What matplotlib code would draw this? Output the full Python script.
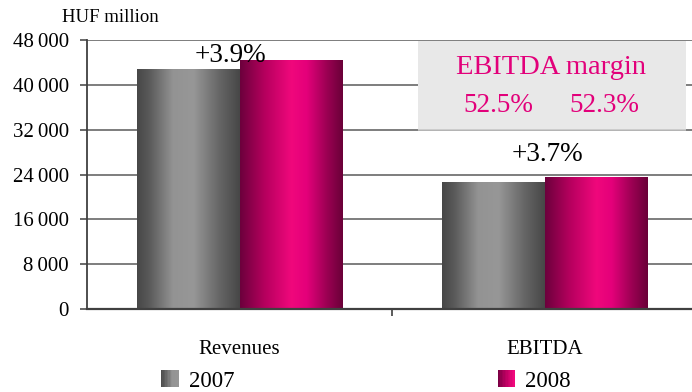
import numpy as np
import matplotlib
matplotlib.use('Agg')
import matplotlib.pyplot as plt
from matplotlib.colors import LinearSegmentedColormap
from matplotlib.patches import Rectangle, Patch
from matplotlib.legend_handler import HandlerBase

plt.rcParams['font.family'] = ['Liberation Serif', 'DejaVu Serif']

# data
categories = ['Revenues', 'EBITDA']
years = ['2007', '2008']
values_2007 = [42670, 22580]
values_2008 = [44300, 23420]
growth_labels = ['+3.9%', '+3.7%']
margin_title = 'EBITDA margin'
margin_labels = ['52.5%', '52.3%']
yticks = [0, 8000, 16000, 24000, 32000, 40000, 48000]
ytick_labels = ['0', '8\u2009000', '16\u2009000', '24\u2009000', '32\u2009000', '40\u2009000', '48\u2009000']

MAGENTA = '#e2007a'
gray_cmap = LinearSegmentedColormap.from_list('g', [
    (0, '#474747'), (0.12, '#5a5a5a'), (0.35, '#939393'), (0.55, '#979797'),
    (0.8, '#666666'), (1.0, '#474747')])
mag_cmap = LinearSegmentedColormap.from_list('m', [
    (0, '#6c003c'), (0.25, '#b8005f'), (0.5, '#f0087c'), (0.65, '#e4007a'),
    (0.85, '#9a0052'), (1.0, '#6a0038')])


class GradientHandler(HandlerBase):
    # legend square drawn as thin stripes of the bar gradient
    def __init__(self, cmap):
        super().__init__()
        self.cmap = cmap

    def create_artists(self, legend, orig_handle, xdescent, ydescent,
                       width, height, fontsize, trans):
        n = 12
        arts = []
        for i in range(n):
            r = Rectangle((-xdescent + i * width / n, -ydescent), width / n + 0.3, height,
                          facecolor=self.cmap(0.05 + 0.45 * i / (n - 1)), lw=0, transform=trans)
            arts.append(r)
        return arts


fig = plt.figure(figsize=(6.92, 3.92), dpi=100)
ax = fig.add_axes([87 / 692, 1 - 309 / 392, 610 / 692, 269 / 392])

x = np.arange(len(categories))
w = 0.336
b1 = ax.bar(x - w / 2, values_2007, w, color='none', zorder=3)
b2 = ax.bar(x + w / 2, values_2008, w, color='none', zorder=3)

grad = np.linspace(0, 1, 256).reshape(1, -1)
for bars, cmap in [(b1, gray_cmap), (b2, mag_cmap)]:
    for p in bars:
        x0, y0 = p.get_x(), p.get_y()
        ax.imshow(grad, cmap=cmap, aspect='auto', zorder=3,
                  extent=(x0, x0 + p.get_width(), y0, y0 + p.get_height()))

ax.set_xlim(-0.5, 1.5)
ax.set_ylim(0, 48000)

# gridlines
for t in yticks[1:]:
    ax.axhline(t, color='#5a5a5a', lw=1.1, zorder=1)

# margin box
ax.add_patch(Rectangle((0.585, 32000), 0.879, 15900, facecolor='#e8e8e8',
                       edgecolor='none', zorder=1.5))
ax.hlines(32000, 0.585, 1.464, color='#c4c4c4', lw=1.1, zorder=1.6)
ax.text(1.021, 43180, margin_title, color=MAGENTA, fontsize=20.5,
        ha='center', va='center', zorder=4)
ax.text(0.848, 36400, margin_labels[0], color=MAGENTA, fontsize=19.5,
        ha='center', va='center', zorder=4)
ax.text(1.195, 36400, margin_labels[1], color=MAGENTA, fontsize=19.5,
        ha='center', va='center', zorder=4)

# growth labels
ax.text(-0.031, 45300, growth_labels[0], fontsize=19.5, ha='center', va='center', zorder=5)
ax.text(1.008, 27480, growth_labels[1], fontsize=19.5, ha='center', va='center', zorder=5)

# axes styling
for s in ['top', 'right']:
    ax.spines[s].set_visible(False)
ax.spines['left'].set_color('#404040')
ax.spines['left'].set_linewidth(1.3)
ax.spines['bottom'].set_color('#404040')
ax.spines['bottom'].set_linewidth(1.6)
ax.spines['bottom'].set_zorder(4)

ax.set_yticks(yticks)
ax.set_yticklabels(ytick_labels, fontsize=15)
ax.tick_params(axis='y', direction='out', length=5, width=1.1, color='#404040', pad=8)
ax.set_xticks(x)
ax.set_xticklabels(categories, fontsize=15)
ax.tick_params(axis='x', which='major', length=0, pad=22)
ax.set_xticks([0.5], minor=True)
ax.tick_params(axis='x', which='minor', direction='out', length=5, width=1.2, color='#404040')

fig.text(62 / 692, 1 - 17 / 392, 'HUF million', fontsize=13.5, ha='left', va='center')

h1 = Patch(label=years[0])
h2 = Patch(label=years[1])
fig.legend(handles=[h1, h2], handler_map={h1: GradientHandler(gray_cmap), h2: GradientHandler(mag_cmap)},
           loc='center left', bbox_to_anchor=(161 / 692, 1 - 381 / 392), ncol=2, frameon=False,
           fontsize=16.5, handlelength=0.75, handleheight=0.75, handletextpad=0.45,
           columnspacing=11.5, borderpad=0, borderaxespad=0)

fig.savefig('out.png', dpi=100)
